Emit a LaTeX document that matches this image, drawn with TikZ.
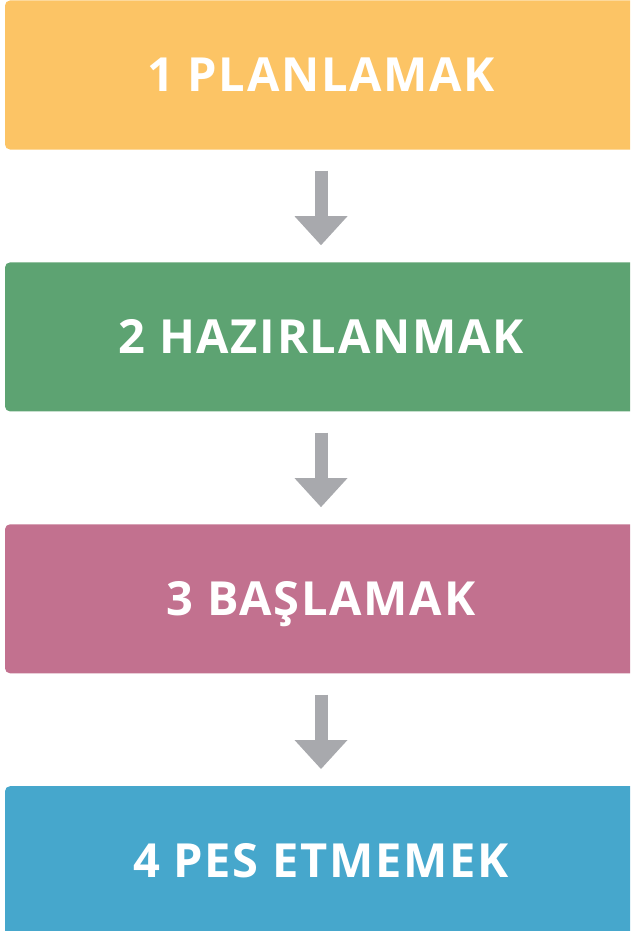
\documentclass[tikz,border=0pt]{standalone}
\usepackage{fontspec}
\setmainfont{Open Sans}
\usetikzlibrary{positioning, arrows.meta}
\definecolor{planyellow}{HTML}{FCC465}
\definecolor{prepgreen}{HTML}{5DA372}
\definecolor{startpink}{HTML}{C2718F}
\definecolor{keepblue}{HTML}{46A7CC}
\definecolor{arrowgray}{HTML}{A8A9AD}

\begin{document}
\begin{tikzpicture}[x=1pt, y=1pt, node distance=112.5pt,
    stage/.style={rounded corners=5pt, minimum width=632pt, minimum height=149pt,
        text=white, font=\fontsize{47}{50}\selectfont\bfseries\addfontfeature{LetterSpace=3.6},
        inner sep=0pt, text height=34pt, text depth=0pt},
    flow/.style={draw=arrowgray, line width=13pt, shorten <=21pt, shorten >=17pt,
        -{Triangle[width=53pt, length=29pt, line width=0pt]}}]
        \useasboundingbox (0,0) rectangle (630,-931);
        \clip (0,0) rectangle (630,-931);

        % Draw the stages
        \node[stage, fill=planyellow] at (321,-75) (s1) {1 PLANLAMAK};
        \node[stage, fill=prepgreen, below=of s1]  (s2) {2 HAZIRLANMAK};
        \node[stage, fill=startpink, below=of s2]  (s3) {3 BAŞLAMAK};
        \node[stage, fill=keepblue, below=of s3]   (s4) {4 PES ETMEMEK};

        % Connect the stages with arrows
        \draw[flow] (s1) -- (s2);
        \draw[flow] (s2) -- (s3);
        \draw[flow] (s3) -- (s4);
    \end{tikzpicture}
\end{document}
